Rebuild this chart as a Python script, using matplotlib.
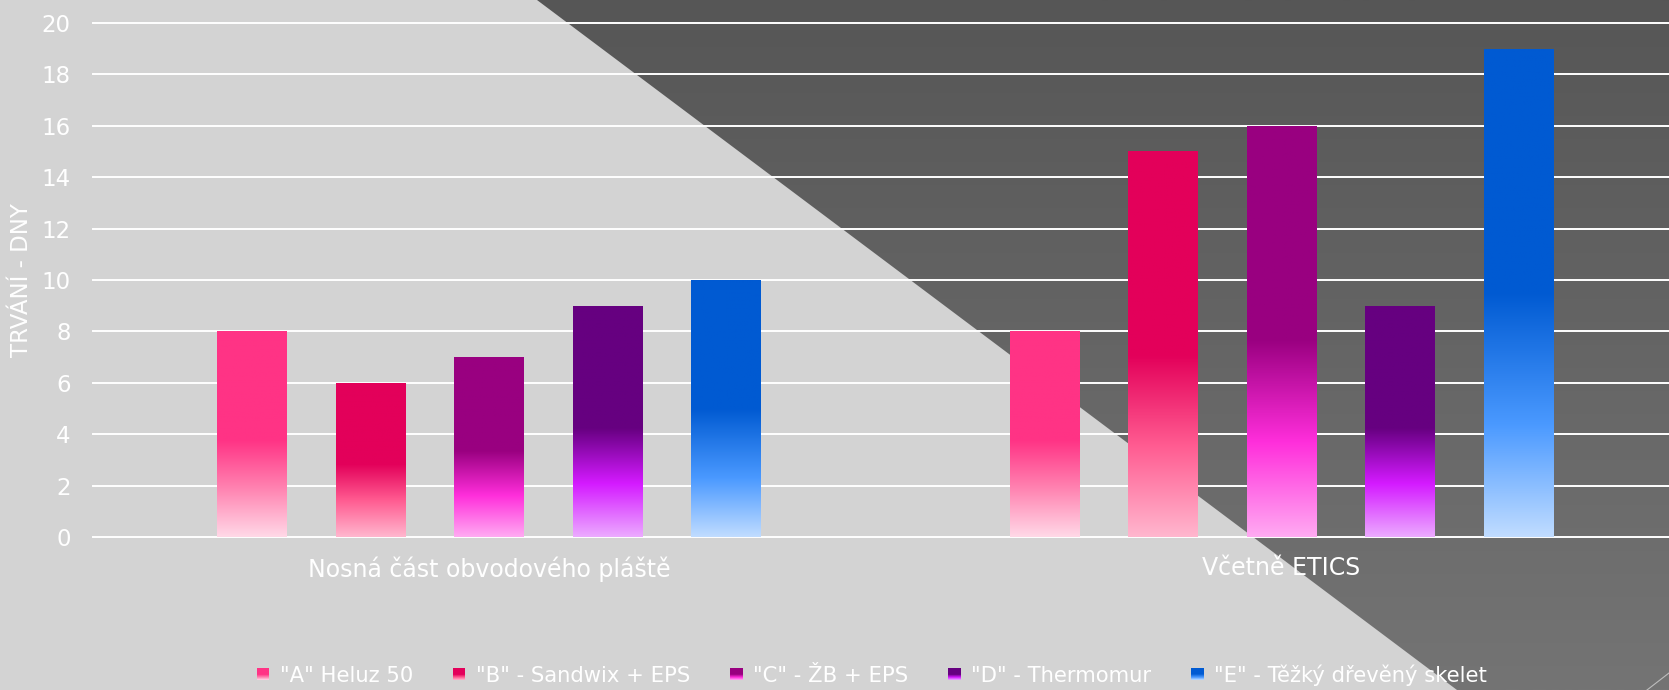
import numpy as np
import matplotlib
matplotlib.use('Agg')
from matplotlib import pyplot as plt
from matplotlib.colors import LinearSegmentedColormap
from matplotlib.patches import Polygon, Rectangle, Patch
from matplotlib.legend_handler import HandlerBase

# data
categories = ['Nosná část obvodového pláště', 'Včetně ETICS']
series = ['"A" Heluz 50', '"B" - Sandwix + EPS', '"C" - ŽB + EPS',
          '"D" - Thermomur', '"E" - Těžký dřevěný skelet']
values_a = [8, 8]
values_b = [6, 15]
values_c = [7, 16]
values_d = [9, 9]
values_e = [10, 19]
all_values = [values_a, values_b, values_c, values_d, values_e]
y_ticks = [0, 2, 4, 6, 8, 10, 12, 14, 16, 18, 20]

# gradient stops, top of bar = 0, bottom = 1
stops = [
    [(0, '#FF3385'), (0.53, '#FF3385'), (0.77, '#FF85B2'), (1, '#FFD8E7')],
    [(0, '#E3005A'), (0.53, '#E3005A'), (0.76, '#FF5A90'), (1, '#FFB6CE')],
    [(0, '#990080'), (0.52, '#990080'), (0.77, '#FF2EDB'), (1, '#FFAAF2')],
    [(0, '#660080'), (0.53, '#660080'), (0.77, '#D41AFF'), (1, '#ECAAFF')],
    [(0, '#005AD2'), (0.50, '#005AD2'), (0.77, '#4A99FF'), (1, '#C0DCFF')],
]
cmaps = [LinearSegmentedColormap.from_list('g%d' % i, s) for i, s in enumerate(stops)]

plt.rcParams['font.family'] = ['DejaVu Sans']
W, H = 1669, 690
fig = plt.figure(figsize=(W / 100, H / 100), dpi=100)
fig.patch.set_facecolor('#D3D3D3')

# background: dark diagonal area of the slide
bg = fig.add_axes([0, 0, 1, 1], zorder=-5)
bg.set_xlim(0, W)
bg.set_ylim(H, 0)
bg.axis('off')
grad = np.linspace(0, 1, 256).reshape(-1, 1)
dark = LinearSegmentedColormap.from_list('dark', ['#565656', '#747474'])
im = bg.imshow(grad, cmap=dark, extent=(0, W, H, 0), aspect='auto')
poly = Polygon([(537, 0), (W, 0), (W, H), (1457, H)], closed=True,
               facecolor='none', edgecolor='none', transform=bg.transData)
bg.add_patch(poly)
im.set_clip_path(poly)
bg.plot([1647, W], [H, 673], color='#BDBDBD', lw=0.8)
bg.set_xlim(0, W)
bg.set_ylim(H, 0)

ax = fig.add_axes([93 / W, 1 - 537 / H, (W - 93) / W, (537 - 23) / H])
ax.set_facecolor('none')

x = np.arange(len(categories))
width = 0.088
step = 0.1495
for i, vals in enumerate(all_values):
    bars = ax.bar(x + (i - 2) * step, vals, width, facecolor='none', edgecolor='none', zorder=3)
    for b in bars:
        x0, y0 = b.get_x(), b.get_y()
        img = ax.imshow(grad, cmap=cmaps[i], vmin=0, vmax=1, origin='upper', aspect='auto',
                        extent=(x0, x0 + b.get_width(), y0, y0 + b.get_height()), zorder=3)
        img.set_clip_path(b)

ax.set_xlim(-0.4997, 1.489)
ax.set_ylim(0, 20)
ax.set_yticks(y_ticks)
ax.set_xticks(x)
ax.set_xticklabels(categories, fontsize=17)
for s in ax.spines.values():
    s.set_visible(False)
for yv in y_ticks:
    ax.axhline(yv, color='white', lw=1.4, zorder=1, clip_on=False)
ax.tick_params(axis='both', length=0, colors='white')
ax.tick_params(axis='y', pad=16, labelsize=16.5)
ax.tick_params(axis='x', pad=14)
ax.set_ylabel('TRVÁNÍ - DNY', color='white', fontsize=16.5, va='center')
ax.yaxis.set_label_coords((22 - 93) / (W - 93), 0.5)


class GradHandler(HandlerBase):
    def __init__(self, cmap):
        super().__init__()
        self.cmap = cmap

    def create_artists(self, legend, orig_handle, xdescent, ydescent, width, height, fontsize, trans):
        n = 12
        side = min(width, height)
        x0 = -xdescent + (width - side) / 2
        y0 = -ydescent + (height - side) / 2
        h = side / n
        arts = []
        for k in range(n):
            c = self.cmap((k + 0.5) / n)
            arts.append(Rectangle((x0, y0 + side - (k + 1) * h), side, h * 1.05,
                                  facecolor=c, edgecolor='none', transform=trans))
        return arts


handles = [Patch(label=s) for s in series]
hmap = {h: GradHandler(cmaps[i]) for i, h in enumerate(handles)}
leg = fig.legend(handles=handles, handler_map=hmap, loc='center', ncol=5,
                 bbox_to_anchor=(872 / W, 15 / H), frameon=False, fontsize=15.2,
                 handlelength=0.58, handleheight=0.58, handletextpad=0.5, columnspacing=1.9)
for t in leg.get_texts():
    t.set_color('white')

plt.savefig('out.png', dpi=100, facecolor=fig.get_facecolor())
